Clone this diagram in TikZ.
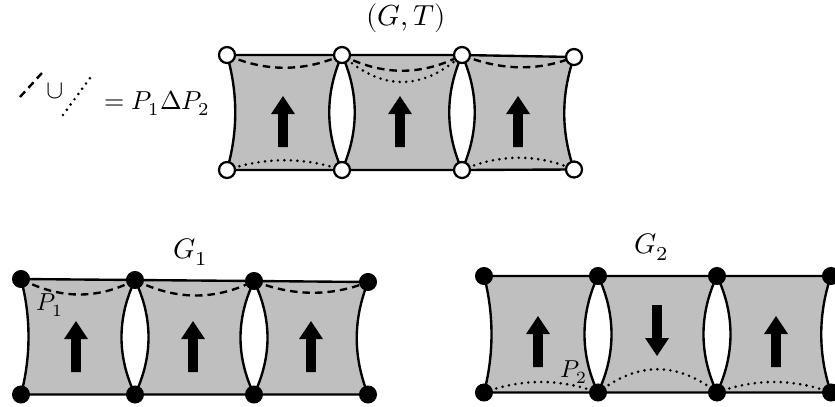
\documentclass[tikz,border=0pt]{standalone}
\usepackage{unicode-math}
\setmathfont{Latin Modern Math}
\usetikzlibrary{backgrounds}
\definecolor{cellgray}{RGB}{191,191,191}
\begin{document}
\begin{tikzpicture}[x=0.4pt,y=-0.4pt,
  cellfill/.style={fill=cellgray,draw=black,line width=0.95pt,line join=round},
  dashpath/.style={line width=0.95pt,dash pattern=on 3pt off 2pt},
  dotpath/.style={line width=1.15pt,line cap=round,dash pattern=on 0pt off 2.6pt},
  openv/.style={circle,draw=black,fill=white,line width=0.9pt,inner sep=0pt,minimum size=6.4pt},
  fullv/.style={circle,draw=black,fill=black,line width=0.8pt,inner sep=0pt,minimum size=6.4pt},
  lbl/.style={inner sep=0pt,font=\fontsize{11.3}{14}\selectfont},
  legend lbl/.style={inner sep=0pt,font=\fontsize{10.4}{13}\selectfont},
  small lbl/.style={inner sep=0pt,font=\fontsize{9.8}{12}\selectfont},
  blockarrow/.pic={\fill (-4.8,25) -- (-4.8,-8) -- (-12,-8) -- (0,-26) -- (12,-8) -- (4.8,-8) -- (4.8,25) -- cycle;}
]
\useasboundingbox (0,0) rectangle (835,407);

% ---------- (G,T) ----------
\node[lbl,font=\fontsize{11.6}{14}\selectfont] (gt) at (406,18) {$(G,T)$};
\node[openv] (t1) at (227,55) {};
\node[openv] (t2) at (342,55) {};
\node[openv] (t3) at (462,55) {};
\node[openv] (t4) at (574,57) {};
\node[openv] (b1) at (227,170) {};
\node[openv] (b2) at (342,170) {};
\node[openv] (b3) at (462,170) {};
\node[openv] (b4) at (574,169.5) {};

% legend
\coordinate (da) at (20,97);
\coordinate (db) at (42,73);
\coordinate (pa) at (63,115);
\coordinate (pb) at (90,78);
\draw[dashpath] (da) -- (db);
\node[legend lbl] (cup) at (55,91) {$\cup$};
\draw[dotpath] (pa) -- (pb);
\node[legend lbl,anchor=west] (sym) at (104,103) {$=P_1\Delta P_2$};

% ---------- G_1 ----------
\node[lbl] (g1) at (191,252) {$G_1$};
\node[fullv] (u1) at (21,279) {};
\node[fullv] (u2) at (135,280) {};
\node[fullv] (u3) at (254,281) {};
\node[fullv] (u4) at (368,282) {};
\node[fullv] (v1) at (21,394.5) {};
\node[fullv] (v2) at (135,394.5) {};
\node[fullv] (v3) at (254,394.5) {};
\node[fullv] (v4) at (368,394.5) {};

% ---------- G_2 ----------
\node[lbl] (g2) at (652,247) {$G_2$};
\node[fullv] (r1) at (484,276) {};
\node[fullv] (r2) at (598,276) {};
\node[fullv] (r3) at (717,276) {};
\node[fullv] (r4) at (831,276) {};
\node[fullv] (s1) at (484,392.5) {};
\node[fullv] (s2) at (598,392.5) {};
\node[fullv] (s3) at (717,392.5) {};
\node[fullv] (s4) at (831,392.5) {};

\begin{scope}[on background layer]
  % cells of (G,T)
  \filldraw[cellfill] (t1.center) -- (t2.center) .. controls +(-17,38) and +(-17,-38) .. (b2.center) -- (b1.center) .. controls +(11,-38) and +(11,38) .. (t1.center) -- cycle;
  \filldraw[cellfill] (t2.center) -- (t3.center) .. controls +(-17,38) and +(-17,-38) .. (b3.center) -- (b2.center) .. controls +(17,-38) and +(17,38) .. (t2.center) -- cycle;
  \filldraw[cellfill] (t3.center) -- (t4.center) .. controls +(-13,38) and +(-13,-38) .. (b4.center) -- (b3.center) .. controls +(17,-38) and +(17,38) .. (t3.center) -- cycle;
  \draw[dashpath] (t1.center) .. controls +(38,17) and +(-38,17) .. (t2.center);
  \draw[dotpath]  (b1.center) .. controls +(38,-13) and +(-38,-13) .. (b2.center);
  \draw[dashpath] (t2.center) .. controls +(40,21) and +(-40,21) .. (t3.center);
  \draw[dotpath]  (t2.center) .. controls +(40,36) and +(-40,36) .. (t3.center);
  \draw[dashpath] (t3.center) .. controls +(37,15) and +(-37,15) .. (t4.center);
  \draw[dotpath]  (b3.center) .. controls +(37,-16) and +(-37,-16) .. (b4.center);
  \pic at (283,122) {blockarrow};
  \pic at (400,122) {blockarrow};
  \pic at (518,122) {blockarrow};

  % cells of G_1
  \filldraw[cellfill] (u1.center) -- (u2.center) .. controls +(-18,38) and +(-18,-38) .. (v2.center) -- (v1.center) .. controls +(10,-38) and +(10,38) .. (u1.center) -- cycle;
  \filldraw[cellfill] (u2.center) -- (u3.center) .. controls +(-18,38) and +(-18,-38) .. (v3.center) -- (v2.center) .. controls +(18,-38) and +(18,38) .. (u2.center) -- cycle;
  \filldraw[cellfill] (u3.center) -- (u4.center) .. controls +(-15,38) and +(-15,-38) .. (v4.center) -- (v3.center) .. controls +(18,-38) and +(18,38) .. (u3.center) -- cycle;
  \draw[dashpath] (u1.center) .. controls +(38,20) and +(-38,20) .. (u2.center);
  \draw[dashpath] (u2.center) .. controls +(40,20) and +(-40,20) .. (u3.center);
  \draw[dashpath] (u3.center) .. controls +(38,15) and +(-38,15) .. (u4.center);
  \pic at (76,347) {blockarrow};
  \pic at (193,347) {blockarrow};
  \pic at (311,347) {blockarrow};
  \node[small lbl] (p1) at (50,305) {$P_1$};

  % cells of G_2
  \filldraw[cellfill] (r1.center) -- (r2.center) .. controls +(-18,38) and +(-18,-38) .. (s2.center) -- (s1.center) .. controls +(10,-38) and +(10,38) .. (r1.center) -- cycle;
  \filldraw[cellfill] (r2.center) -- (r3.center) .. controls +(-18,38) and +(-18,-38) .. (s3.center) -- (s2.center) .. controls +(18,-38) and +(18,38) .. (r2.center) -- cycle;
  \filldraw[cellfill] (r3.center) -- (r4.center) .. controls +(-13,38) and +(-13,-38) .. (s4.center) -- (s3.center) .. controls +(18,-38) and +(18,38) .. (r3.center) -- cycle;
  \draw[dotpath] (s1.center) .. controls +(38,-14) and +(-38,-14) .. (s2.center);
  \draw[dotpath] (s2.center) .. controls +(40,-31) and +(-40,-31) .. (s3.center);
  \draw[dotpath] (s3.center) .. controls +(38,-14) and +(-38,-14) .. (s4.center);
  \pic at (538,342) {blockarrow};
  \pic[rotate=180] at (657,330) {blockarrow};
  \pic at (776,342) {blockarrow};
  \node[small lbl] (p2) at (574,372) {$P_2$};
\end{scope}
\end{tikzpicture}
\end{document}
